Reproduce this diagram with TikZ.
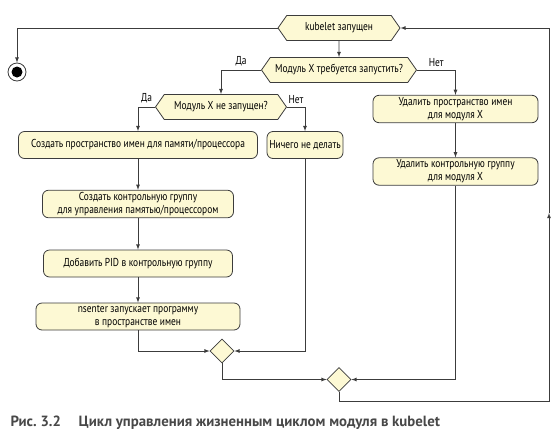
\documentclass[tikz,border=0pt]{standalone}
\usepackage{fontspec}
\setmainfont{PT Sans}[FakeStretch=0.82]
\newfontfamily\capfont{PT Sans}
\usepackage{xcolor}
\usetikzlibrary{shapes.geometric}
\usetikzlibrary{shapes.symbols}
\usetikzlibrary{positioning}
\usetikzlibrary{arrows,calc}

\definecolor{boxfill}{RGB}{253,249,212}
\definecolor{boxline}{RGB}{60,60,60}
\definecolor{captext}{RGB}{72,72,72}

\begin{document}
\begin{tikzpicture} [
       x=1pt, y=-1pt,
       font=\fontsize{11.5}{13}\selectfont,
       action/.style={rectangle, rounded corners=6pt, draw=boxline, fill=boxfill,
               line width=0.8pt, align=center, minimum height=27pt, inner sep=2pt},
       decision/.style={signal, signal to=west and east, signal pointer angle=110,
               draw=boxline, fill=boxfill, line width=0.8pt, minimum height=25pt, inner sep=2pt},
       merge/.style={diamond, draw=boxline, fill=boxfill, line width=0.8pt,
               minimum width=24pt, minimum height=24pt, inner sep=0pt},
       line/.style={draw=boxline, line width=0.8pt, ->, >=latex},
       ]
       \useasboundingbox (0,0) rectangle (559,445);
       \node (start) [decision, minimum width=122pt] at (339,28) {kubelet запущен};
       \node (stop) [circle, draw=boxline, line width=0.8pt, minimum size=18pt, inner sep=0pt] at (17,72) {};
       \fill[black] (stop.center) circle (5.5pt);
       \node (need) [decision, minimum width=155pt] at (339,70) {Модуль X требуется запустить?};
       \node (notrun) [decision, minimum width=131pt] at (221,107) {Модуль X не запущен?};
       \node (mkns) [action, minimum width=239pt] at (138,145) {Создать пространство имен для памяти/процессора};
       \node (noop) [action, minimum width=76pt] at (305,145) {Ничего не делать};
       \node (mkcg) [action, minimum width=191pt] at (138,204) {Создать контрольную группу\\для управления памятью/процессором};
       \node (addpid) [action, minimum width=189pt] at (138,263.5) {Добавить PID в контрольную группу};
       \node (nsenter) [action, minimum width=204pt] at (138,316.5) {nsenter запускает программу\\в пространстве имен};
       \node (delns) [action, minimum width=165pt] at (455.5,109) {Удалить пространство имен\\для модуля X};
       \node (delcg) [action, minimum width=165pt] at (455.5,171.5) {Удалить контрольную группу\\для модуля X};
       \node (join1) [merge] at (222,351) {};
       \node (join2) [merge] at (339,379.5) {};
       \coordinate (loopbot) at (549,401);
       \coordinate (loopmid) at (549,213);
       \node (caption) [anchor=west, text=captext, font=\capfont\bfseries\fontsize{14.8}{17}\selectfont] at (7,423)
            {Рис.~3.2\hspace{1.2em}Цикл управления жизненным циклом модуля в kubelet};
        \begin{scope}[every path/.style=line]
        \path (start.west) -| (stop.north);
        \path (start) -- (need);
        \path (need.west) -| node[above, pos=0.25] {Да} (notrun.north);
        \path (need.east) -| node[above, pos=0.25] {Нет} (delns.north);
        \path (notrun.west) -| node[above, pos=0.25] {Да} (mkns.north);
        \path (notrun.east) -| node[above, pos=0.25] {Нет} (noop.north);
        \path (mkns) -- (mkcg);
        \path (mkcg) -- (addpid);
        \path (addpid) -- (nsenter);
        \path (nsenter.south) |- (join1.west);
        \path (noop.south) |- (join1.east);
        \path (join1.south) |- (join2.west);
        \path (delns) -- (delcg);
        \path (delcg.south) |- (join2.east);
        \path (join2.south) |- (loopbot) -- (loopmid);
        \path (loopmid) |- (start.east);
        \end{scope}
\end{tikzpicture}
\end{document}
